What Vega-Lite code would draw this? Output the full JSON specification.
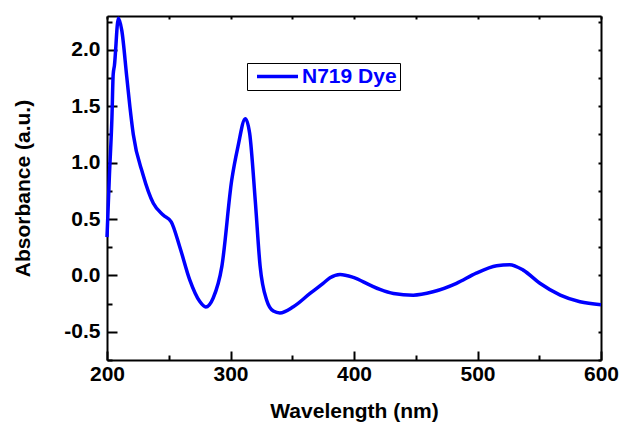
{
  "$schema": "https://vega.github.io/schema/vega-lite/v6.json",
  "width": 494,
  "height": 344,
  "autosize": "none",
  "padding": {"left": 107, "top": 16, "right": 18, "bottom": 63},
  "background": "white",
  "config": {
    "view": {"stroke": null},
    "font": "Liberation Sans",
    "axis": {
      "domainColor": "black", "domainWidth": 2, "tickColor": "black", "tickWidth": 2,
      "labelFont": "Liberation Sans", "labelFontWeight": "bold", "labelFontSize": 21, "labelColor": "black",
      "titleFont": "Liberation Sans", "titleFontWeight": "bold", "titleFontSize": 21, "titleColor": "black",
      "grid": false, "labelFlush": false, "labelOverlap": false
    }
  },
  "data": {"values": [
    {"wl": 200, "abs": 0.34},
    {"wl": 202, "abs": 0.9},
    {"wl": 204, "abs": 1.4},
    {"wl": 205, "abs": 1.78},
    {"wl": 206, "abs": 1.86},
    {"wl": 209.2, "abs": 2.28},
    {"wl": 212, "abs": 2.17},
    {"wl": 216, "abs": 1.76},
    {"wl": 218.6, "abs": 1.49},
    {"wl": 221.3, "abs": 1.25},
    {"wl": 229, "abs": 0.90},
    {"wl": 237.5, "abs": 0.64},
    {"wl": 245.5, "abs": 0.535},
    {"wl": 252, "abs": 0.475},
    {"wl": 259, "abs": 0.25},
    {"wl": 267, "abs": -0.04},
    {"wl": 275, "abs": -0.23},
    {"wl": 280, "abs": -0.28},
    {"wl": 286, "abs": -0.20},
    {"wl": 293, "abs": 0.08},
    {"wl": 301, "abs": 0.845},
    {"wl": 306, "abs": 1.14},
    {"wl": 312, "abs": 1.39},
    {"wl": 315.5, "abs": 1.26},
    {"wl": 320, "abs": 0.67},
    {"wl": 324, "abs": 0.08},
    {"wl": 329.3, "abs": -0.22},
    {"wl": 334.7, "abs": -0.316},
    {"wl": 340, "abs": -0.333},
    {"wl": 350.9, "abs": -0.278},
    {"wl": 364.4, "abs": -0.16},
    {"wl": 375, "abs": -0.071},
    {"wl": 380.6, "abs": -0.021},
    {"wl": 388.7, "abs": 0.009},
    {"wl": 399.5, "abs": -0.018},
    {"wl": 413, "abs": -0.086},
    {"wl": 421, "abs": -0.124},
    {"wl": 432, "abs": -0.16},
    {"wl": 448, "abs": -0.175},
    {"wl": 464, "abs": -0.145},
    {"wl": 483, "abs": -0.07},
    {"wl": 499, "abs": 0.02},
    {"wl": 515.5, "abs": 0.085},
    {"wl": 526, "abs": 0.095},
    {"wl": 537, "abs": 0.047},
    {"wl": 550.5, "abs": -0.07},
    {"wl": 567, "abs": -0.175},
    {"wl": 583, "abs": -0.234},
    {"wl": 600, "abs": -0.26}
  ]},
  "transform": [{"calculate": "'N719 Dye'", "as": "series"}],
  "layer": [
    {
      "mark": {"type": "line", "strokeOpacity": 0, "interpolate": "monotone"},
      "encoding": {
        "x": {"field": "wl", "type": "quantitative", "scale": {"domain": [200, 600], "nice": false, "zero": false},
          "axis": {"orient": "top", "title": null, "labels": false, "values": [200,250,300,350,400,450,500,550,600], "tickSize": -3}},
        "y": {"field": "abs", "type": "quantitative", "scale": {"domain": [-0.75, 2.3], "nice": false, "zero": false},
          "axis": {"orient": "right", "title": null, "labels": false, "values": [-0.75,-0.5,-0.25,0,0.25,0.5,0.75,1,1.25,1.5,1.75,2,2.25], "tickSize": -3}}
      }
    },
    {
      "mark": {"type": "line", "strokeWidth": 3.5, "interpolate": "monotone"},
      "encoding": {
        "x": {"field": "wl", "type": "quantitative", "title": "Wavelength (nm)",
          "axis": {"orient": "bottom", "values": [200,250,300,350,400,450,500,550,600],
            "labelExpr": "datum.value % 100 === 0 ? datum.label : ''",
            "tickSize": {"condition": {"test": "datum.value % 100 === 0", "value": -9}, "value": -5},
            "labelFontSize": 21, "titleFontSize": 21,
            "labelPadding": 12, "titlePadding": 12}},
        "y": {"field": "abs", "type": "quantitative", "title": "Absorbance (a.u.)",
          "axis": {"orient": "left", "values": [-0.75,-0.5,-0.25,0,0.25,0.5,0.75,1,1.25,1.5,1.75,2,2.25],
            "labelExpr": "abs(datum.value*2 - round(datum.value*2)) < 0.001 ? (datum.value < 0 ? '-' : '') + format(abs(datum.value), '.1f') : ''",
            "tickSize": {"condition": {"test": "abs(datum.value*2 - round(datum.value*2)) < 0.001", "value": -10}, "value": -5},
            "labelFontSize": 21, "titleFontSize": 21,
            "labelPadding": 17, "titlePadding": 30}},
        "color": {"field": "series", "type": "nominal", "title": null,
          "scale": {"range": ["#0000ff"]},
          "legend": {"orient": "none", "legendX": 140, "legendY": 47, "symbolType": "stroke", "symbolSize": 1681,
            "symbolStrokeWidth": 3.5, "symbolOffset": 5, "labelFont": "Liberation Sans", "labelFontWeight": "bold",
            "labelFontSize": 21, "labelColor": "#0000ff", "labelOffset": 2, "padding": 3, "clipHeight": 21,
            "strokeColor": "black", "fillColor": "white"}}
      }
    }
  ],
  "resolve": {"axis": {"x": "independent", "y": "independent"}}
}
